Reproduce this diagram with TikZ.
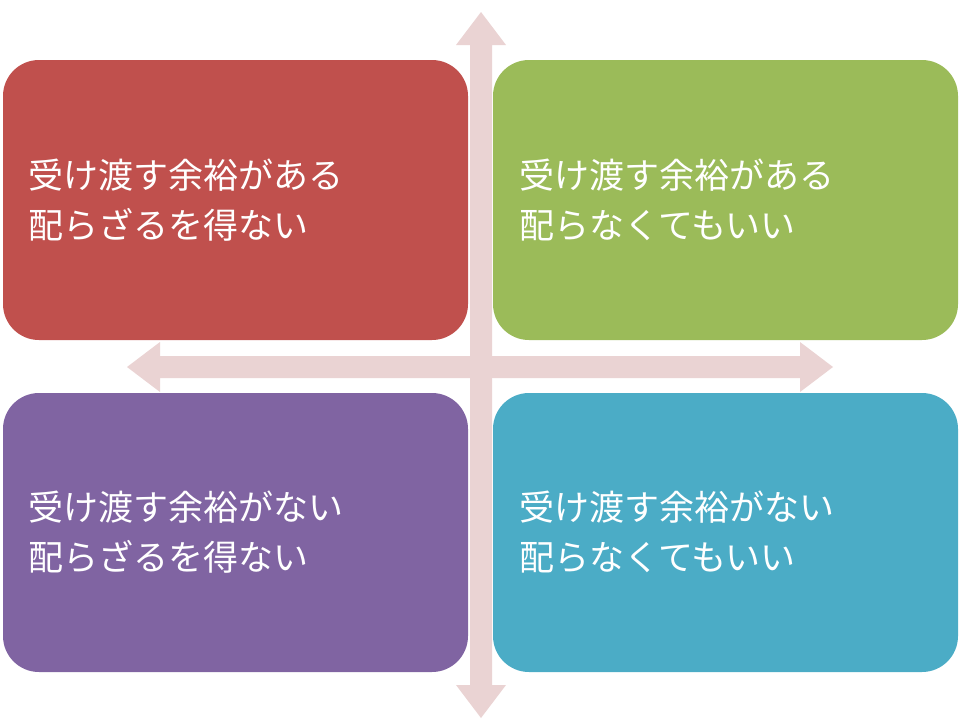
\documentclass[tikz,border=0pt]{standalone}
\usepackage{fontspec}
\newfontfamily\cjk{Noto Sans CJK JP}
\definecolor{cred}{HTML}{C0504D}
\definecolor{cgreen}{HTML}{9BBB59}
\definecolor{cpurple}{HTML}{8064A2}
\definecolor{cteal}{HTML}{4BACC6}
\definecolor{carrow}{HTML}{EAD3D3}
\begin{document}
\begin{tikzpicture}[x=1pt,y=-1pt,
  quad/.style={rounded corners=36pt},
  lbl/.style={anchor=west,align=left,text=white,font=\cjk\fontsize{35}{50}\selectfont,inner sep=0pt}]
\useasboundingbox (0,0) rectangle (960,720);
% arrows
\fill[carrow] (481,12) -- (506,45) -- (492,45) -- (492,685) -- (506,685) -- (481,718) -- (456,685) -- (470,685) -- (470,45) -- (456,45) -- cycle;
\fill[carrow] (127,367) -- (160,342) -- (160,356) -- (800,356) -- (800,342) -- (833,367) -- (800,392) -- (800,378) -- (160,378) -- (160,392) -- cycle;
% boxes
\fill[cred,quad] (3,60) rectangle (468,340);
\fill[cgreen,quad] (493,60) rectangle (958,340);
\fill[cpurple,quad] (3,393) rectangle (468,672);
\fill[cteal,quad] (493,393) rectangle (958,672);
\node[lbl] (tl) at (28,200) {受け渡す余裕がある\\配らざるを得ない};
\node[lbl] (tr) at (519,200) {受け渡す余裕がある\\配らなくてもいい};
\node[lbl] (bl) at (28,532) {受け渡す余裕がない\\配らざるを得ない};
\node[lbl] (br) at (519,532) {受け渡す余裕がない\\配らなくてもいい};
\end{tikzpicture}
\end{document}
